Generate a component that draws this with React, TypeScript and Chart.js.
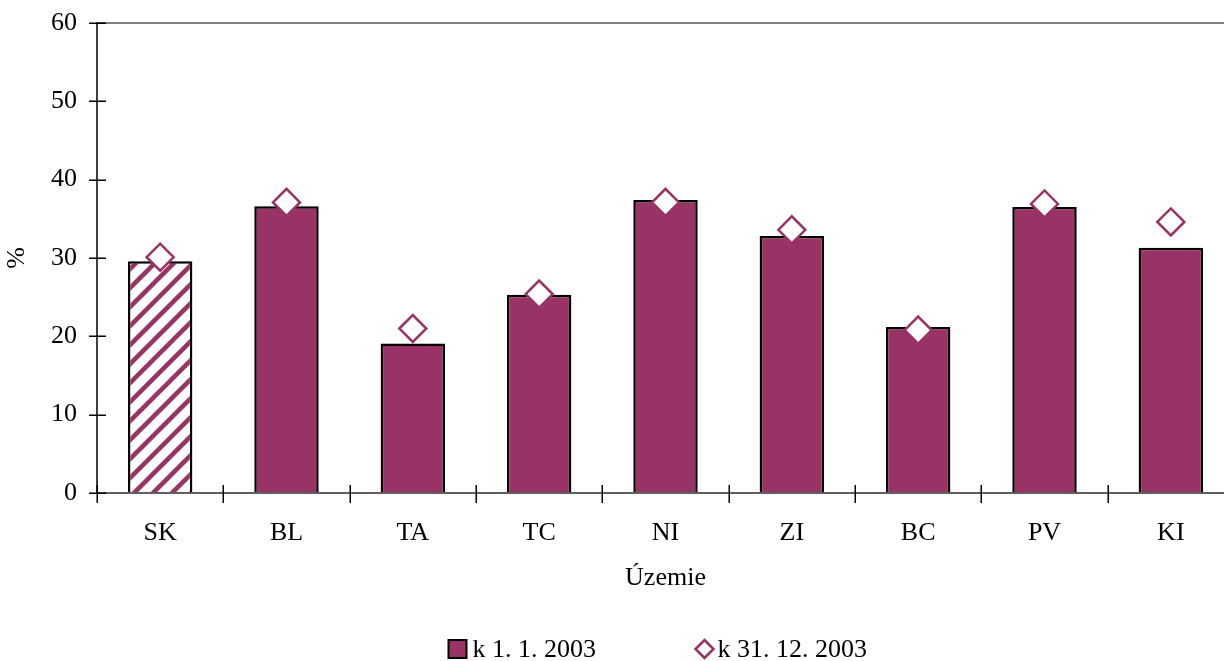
import React, { useEffect, useRef } from "react";
import { Chart, registerables } from "chart.js";

Chart.register(...registerables);

const categories = ["SK", "BL", "TA", "TC", "NI", "ZI", "BC", "PV", "KI"];
const start2003 = [29.6, 36.6, 19.1, 25.3, 37.4, 32.8, 21.2, 36.5, 31.3];
const end2003 = [30.1, 37.1, 21.0, 25.4, 37.1, 33.6, 20.8, 36.9, 34.6];
const seriesLabels = ["k 1. 1. 2003", "k 31. 12. 2003"];
const yTicks = [0, 10, 20, 30, 40, 50, 60];
const xTitle = "Územie";
const yTitle = "%";

const PLUM = "#993366";
const FONT = "'Liberation Serif', 'Times New Roman', serif";

function makeStripePattern(): CanvasPattern | string {
  const s = 19;
  const c = document.createElement("canvas");
  c.width = s;
  c.height = s;
  const g = c.getContext("2d");
  if (!g) return PLUM;
  g.fillStyle = "#ffffff";
  g.fillRect(0, 0, s, s);
  g.strokeStyle = PLUM;
  g.lineWidth = 4.5;
  g.beginPath();
  g.moveTo(-s * 0.5, s * 0.5);
  g.lineTo(s * 0.5, -s * 0.5);
  g.moveTo(0, s);
  g.lineTo(s, 0);
  g.moveTo(s * 0.5, s * 1.5);
  g.lineTo(s * 1.5, s * 0.5);
  g.stroke();
  const p = g.createPattern(c, "repeat");
  return p || PLUM;
}

const crossTicksAndLegend = {
  id: "crossTicksAndLegend",
  afterDraw(chart: any) {
    const ctx = chart.ctx;
    const x = chart.scales.x;
    const y = chart.scales.y;
    const area = chart.chartArea;
    ctx.save();
    ctx.strokeStyle = "#000";
    ctx.lineWidth = 1.5;
    ctx.beginPath();
    yTicks.forEach((v) => {
      const py = Math.round(y.getPixelForValue(v)) + 0.25;
      ctx.moveTo(area.left - 8, py);
      ctx.lineTo(area.left + 9, py);
    });
    const n = categories.length;
    const w = (x.right - x.left) / n;
    for (let i = 0; i <= n; i++) {
      const px = Math.round(x.left + i * w) + 0.25;
      ctx.moveTo(px, area.bottom - 8);
      ctx.lineTo(px, area.bottom + 10);
    }
    ctx.stroke();

    // legend
    const cx = (area.left + area.right) / 2;
    const ly = 649;
    const boxLeft = cx - 217;
    ctx.font = "26px " + FONT;
    ctx.textBaseline = "middle";
    ctx.textAlign = "left";
    ctx.fillStyle = PLUM;
    ctx.fillRect(boxLeft, ly - 9, 18, 18);
    ctx.strokeStyle = "#000";
    ctx.lineWidth = 2;
    ctx.strokeRect(boxLeft, ly - 9, 18, 18);
    ctx.fillStyle = "#000";
    ctx.fillText(seriesLabels[0], boxLeft + 24, ly + 1);

    const dx = boxLeft + 256;
    ctx.beginPath();
    ctx.moveTo(dx, ly - 9);
    ctx.lineTo(dx + 9, ly);
    ctx.lineTo(dx, ly + 9);
    ctx.lineTo(dx - 9, ly);
    ctx.closePath();
    ctx.fillStyle = "#fff";
    ctx.fill();
    ctx.strokeStyle = PLUM;
    ctx.lineWidth = 2.5;
    ctx.stroke();
    ctx.fillStyle = "#000";
    ctx.fillText(seriesLabels[1], dx + 13, ly + 1);
    ctx.restore();
  },
};

export default function App() {
  const ref = useRef<HTMLCanvasElement | null>(null);

  useEffect(() => {
    if (!ref.current) return;
    const pattern = makeStripePattern();
    const barColors = categories.map((_, i) => (i === 0 ? pattern : PLUM));
    const chart = new Chart(ref.current, {
      type: "bar",
      data: {
        labels: categories,
        datasets: [
          {
            type: "line",
            label: seriesLabels[1],
            data: end2003,
            showLine: false,
            pointStyle: "rectRot",
            pointRadius: 13.5,
            pointHoverRadius: 13.5,
            pointBackgroundColor: "#ffffff",
            pointBorderColor: PLUM,
            pointBorderWidth: 2.5,
            order: 0,
          } as any,
          {
            type: "bar",
            label: seriesLabels[0],
            data: start2003,
            backgroundColor: barColors as any,
            borderColor: "#000000",
            borderWidth: 2.5,
            categoryPercentage: 1,
            barPercentage: 0.51,
            order: 1,
          },
        ],
      },
      options: {
        animation: false,
        responsive: true,
        maintainAspectRatio: false,
        layout: { padding: { left: 0, right: 15.4, top: 23, bottom: 61 } },
        plugins: {
          legend: { display: false },
          tooltip: { enabled: false },
        },
        scales: {
          x: {
            afterFit: (s: any) => {
              s.height = 107;
            },
            grid: { display: false, drawTicks: false },
            border: { display: true, color: "#606060", width: 2 },
            ticks: {
              color: "#000",
              padding: 25,
              font: { family: FONT, size: 26 },
              maxRotation: 0,
              autoSkip: false,
            },
            title: {
              display: true,
              text: xTitle,
              color: "#000",
              font: { family: FONT, size: 26 },
              padding: { top: 0, bottom: 6 },
            },
          },
          y: {
            min: 0,
            max: 60,
            afterFit: (s: any) => {
              s.width = 97;
              s.paddingTop = 0;
              s.paddingBottom = 0;
            },
            afterBuildTicks: (s: any) => {
              s.ticks = yTicks.map((v) => ({ value: v }));
            },
            grid: {
              drawTicks: false,
              color: (c: any) => (c.tick && c.tick.value === 60 ? "#808080" : "rgba(0,0,0,0)"),
              lineWidth: 2,
            },
            border: { display: true, color: "#404040", width: 2 },
            ticks: {
              color: "#000",
              padding: 20,
              font: { family: FONT, size: 26 },
            },
            title: {
              display: true,
              text: yTitle,
              color: "#000",
              font: { family: FONT, size: 26 },
              padding: { top: 2, bottom: 0 },
            },
          },
        },
      },
      plugins: [crossTicksAndLegend],
    });
    return () => chart.destroy();
  }, []);

  return (
    <div
      style={{
        position: "fixed",
        left: 0,
        top: 0,
        width: 1224,
        height: 661,
        overflow: "hidden",
        background: "#fff",
      }}
    >
      <div style={{ position: "relative", width: 1250, height: 661 }}>
        <canvas ref={ref} />
      </div>
    </div>
  );
}
